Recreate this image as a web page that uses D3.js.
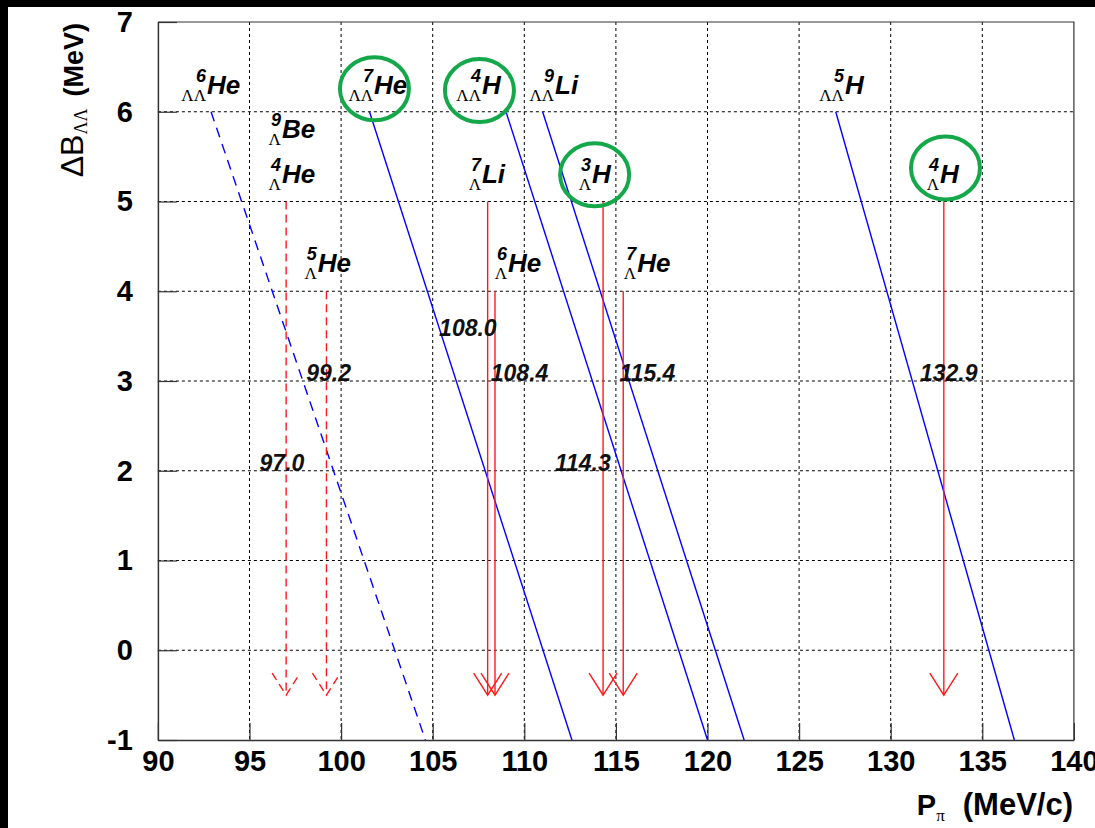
<!DOCTYPE html>
<html>
<head>
<meta charset="utf-8">
<script src="https://cdn.jsdelivr.net/npm/d3@7"></script>
<style>
  html, body { margin: 0; padding: 0; background: #fff; }
  svg { display: block; }
</style>
</head>
<body>
<div id="chart"></div>
<script>
// ΛΛ hypernuclei: pion momentum P_π (MeV/c) at ΔB_ΛΛ = 6 and at ΔB_ΛΛ = -1
const llSymbols = ["He", "He", "H", "Li", "H"];
const llMass    = ["6", "7", "4", "9", "5"];
const llPtop    = [92.9, 101.55, 109.0, 111.0, 127.0];
const llPbottom = [104.6, 112.6, 120.0, 122.0, 136.75];
const llDashed  = [true, false, false, false, false];

// Λ hypernuclei: measured pion momenta (arrows)
const arrowP      = [97.0, 99.2, 108.0, 108.4, 114.3, 115.4, 132.9];
const arrowTop    = [5, 4, 5, 4, 5, 4, 5];
const arrowDashed = [true, true, false, false, false, false, false];
const arrowTip    = -0.5;
// where each momentum value is written (P, ΔB)
const valueLabelP = [95.55, 98.1, 105.35, 108.17, 111.67, 115.2, 131.6];
const valueLabelB = [2.0, 3.0, 3.5, 3.0, 2.0, 3.0, 3.0];

// nucleus names: subscript, mass number, element, anchor (P, ΔB)
const nucSub  = ["ΛΛ", "ΛΛ", "ΛΛ", "ΛΛ", "ΛΛ", "Λ", "Λ", "Λ", "Λ", "Λ", "Λ", "Λ", "Λ"];
const nucMass = ["6", "7", "4", "9", "5", "9", "4", "5", "7", "6", "3", "7", "4"];
const nucSym  = ["He", "He", "H", "Li", "H", "Be", "He", "He", "Li", "He", "H", "He", "H"];
const nucP    = [92.68, 101.8, 107.69, 111.68, 127.5, 96.77, 96.77, 98.73, 107.69, 109.11, 113.7, 116.16, 132.69];
const nucB    = [6.2, 6.2, 6.2, 6.2, 6.2, 5.71, 5.21, 4.21, 5.21, 4.21, 5.21, 4.21, 5.21];

// highlighted nuclei: ring centres (P, ΔB)
const ringP = [101.82, 107.55, 113.84, 132.99];
const ringB = [6.256, 6.236, 5.298, 5.373];

// axis ticks
const xMajor = d3.range(90, 141, 5);
const xMinor = d3.range(90, 141, 1);
const yMajor = d3.range(-1, 8, 1);
const yMinor = d3.range(-1, 7.01, 0.25);

const W = 1095, H = 828;
const svg = d3.select("#chart").append("svg").attr("width", W).attr("height", H);

svg.append("rect").attr("width", W).attr("height", H).attr("fill", "#fff");
// dark border strips along the top and left edges
svg.append("rect").attr("x", 0).attr("y", 0).attr("width", W).attr("height", 7).attr("fill", "#000");
svg.append("rect").attr("x", 0).attr("y", 0).attr("width", 8).attr("height", H).attr("fill", "#000");

const x = d3.scaleLinear().domain([90, 140]).range([157.9, 1073.9]);
const y = d3.scaleLinear().domain([-1, 7]).range([740, 22]);

const sans = "Liberation Sans, Arial, Helvetica, sans-serif";
const serif = "Liberation Serif, Times New Roman, serif";
const plain = d => String(d);

// grid
const grid = svg.append("g").attr("stroke", "#000").attr("stroke-width", 1)
  .attr("stroke-dasharray", "3,3").attr("fill", "none");
grid.selectAll("line.v").data(xMajor.filter(v => v > 90 && v < 140)).join("line")
  .attr("class", "v")
  .attr("x1", d => x(d)).attr("x2", d => x(d))
  .attr("y1", y(7)).attr("y2", y(-1));
grid.selectAll("line.h").data(yMajor.filter(v => v > -1 && v < 7)).join("line")
  .attr("class", "h")
  .attr("x1", x(90)).attr("x2", x(140))
  .attr("y1", d => y(d)).attr("y2", d => y(d));

// frame (top and right)
svg.append("path")
  .attr("d", `M${x(90)},${y(7)}H${x(140)}V${y(-1)}`)
  .attr("fill", "none").attr("stroke", "#333").attr("stroke-width", 1.2);

// x axis: minor ticks, then major ticks with labels
const gx = svg.append("g").attr("transform", `translate(0,${y(-1)})`).style("color", "#333");
gx.call(d3.axisBottom(x).tickValues(xMinor).tickSize(-8.3).tickSizeOuter(0).tickFormat(""));
gx.call(d3.axisBottom(x).tickValues(xMajor).tickSize(-17).tickSizeOuter(0).tickPadding(10).tickFormat(plain));
gx.selectAll("path.domain").attr("stroke-width", 1.5);
gx.selectAll("line").attr("stroke-width", 1.2);
gx.selectAll("text").attr("font-family", sans).attr("font-weight", "bold")
  .attr("font-size", 29).attr("fill", "#000");

// y axis
const gy = svg.append("g").attr("transform", `translate(${x(90)},0)`).style("color", "#333");
gy.call(d3.axisLeft(y).tickValues(yMinor).tickSize(-9).tickSizeOuter(0).tickFormat(""));
gy.call(d3.axisLeft(y).tickValues(yMajor).tickSize(-19).tickSizeOuter(0).tickPadding(25).tickFormat(plain));
gy.selectAll("path.domain").attr("stroke-width", 1.5);
gy.selectAll("line").attr("stroke-width", 1.2);
gy.selectAll("text").attr("font-family", sans).attr("font-weight", "bold")
  .attr("font-size", 29).attr("fill", "#000");

// axis titles
const yt = svg.append("text")
  .attr("transform", "translate(83,23) rotate(-90)")
  .attr("text-anchor", "end").attr("font-family", sans).attr("fill", "#000");
yt.append("tspan").attr("font-size", 32).text("ΔB");
yt.append("tspan").attr("font-size", 18).attr("font-family", serif).attr("dy", 4).text("ΛΛ");
yt.append("tspan").attr("font-size", 27).attr("font-weight", "bold").attr("dy", -4).attr("dx", 12).text("(MeV)");

const xt = svg.append("text")
  .attr("x", 1073).attr("y", 815)
  .attr("text-anchor", "end").attr("font-family", sans).attr("fill", "#000");
xt.append("tspan").attr("font-size", 29).attr("font-weight", "bold").text("P");
xt.append("tspan").attr("font-size", 17).attr("font-family", serif).attr("dy", 6).text("π");
xt.append("tspan").attr("font-size", 31).attr("font-weight", "bold").attr("dy", -6).attr("dx", 18).text("(MeV/c)");

// ΛΛ lines
const line = d3.line().x(d => x(d[0])).y(d => y(d[1]));
svg.append("g").selectAll("path").data(llPtop.map((p, i) => i)).join("path")
  .attr("d", i => line([[llPtop[i], 6], [llPbottom[i], -1]]))
  .attr("fill", "none").attr("stroke", "#0000ff").attr("stroke-width", 1.4)
  .attr("stroke-dasharray", i => llDashed[i] ? "10,7" : null);

// Λ arrows
const ag = svg.append("g").attr("fill", "none").attr("stroke", "#ff1a1a").attr("stroke-width", 1.4);
arrowP.forEach((p, i) => {
  const g = ag.append("g").attr("stroke-dasharray", arrowDashed[i] ? "8,5" : null);
  const xp = x(p), ytip = y(arrowTip);
  g.append("line").attr("x1", xp).attr("x2", xp).attr("y1", y(arrowTop[i])).attr("y2", ytip);
  g.append("path").attr("d", `M${xp - 14},${ytip - 22}L${xp},${ytip}L${xp + 14},${ytip - 22}`);
});

// momentum values
svg.append("g").selectAll("text").data(arrowP.map((p, i) => i)).join("text")
  .attr("x", i => x(valueLabelP[i])).attr("y", i => y(valueLabelB[i]))
  .attr("font-family", sans).attr("font-weight", "bold").attr("font-style", "italic")
  .attr("font-size", 23).attr("fill", "#111")
  .text(i => arrowP[i].toFixed(1));

// nucleus names
const ng = svg.append("g");
nucSym.forEach((s, i) => {
  const g = ng.append("g").attr("transform", `translate(${x(nucP[i])},${y(nucB[i])})`);
  g.append("text").attr("font-family", sans).attr("font-weight", "bold").attr("font-style", "italic")
    .attr("font-size", 26).attr("fill", "#000").text(s);
  g.append("text").attr("x", -1).attr("y", -12).attr("text-anchor", "end")
    .attr("font-family", sans).attr("font-weight", "bold").attr("font-style", "italic")
    .attr("font-size", 18).attr("fill", "#000").text(nucMass[i]);
  g.append("text").attr("x", -1).attr("y", 7).attr("text-anchor", "end")
    .attr("font-family", serif).attr("font-size", 17).attr("fill", "#000").text(nucSub[i]);
});

// rings around highlighted nuclei
svg.append("g").selectAll("ellipse").data(ringP.map((p, i) => i)).join("ellipse")
  .attr("cx", i => x(ringP[i])).attr("cy", i => y(ringB[i]))
  .attr("rx", 34.5).attr("ry", 31.5)
  .attr("fill", "none").attr("stroke", "#14a84b").attr("stroke-width", 4);
</script>
</body>
</html>
